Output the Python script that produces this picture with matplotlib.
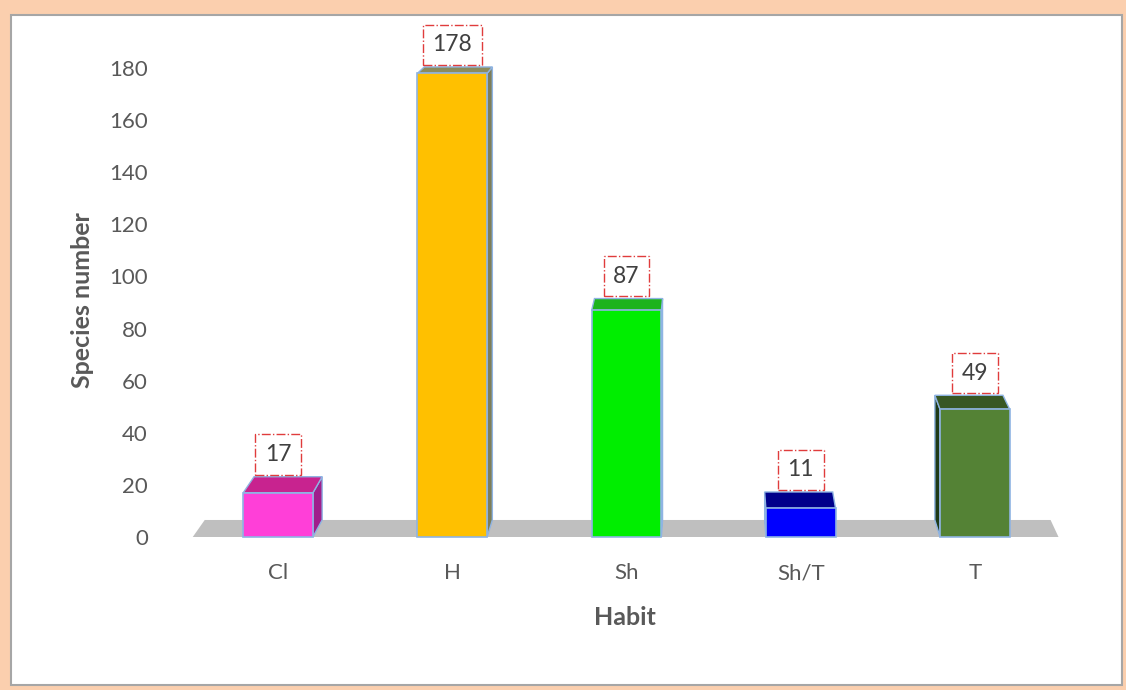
import matplotlib
matplotlib.use("Agg")
import matplotlib.pyplot as plt
from matplotlib.patches import Polygon, Rectangle

categories = ["Cl", "H", "Sh", "Sh/T", "T"]
values = [17, 178, 87, 11, 49]
yticks = list(range(0, 181, 20))

front_colors = ["#FF3FD8", "#FFC000", "#00EE00", "#0000FF", "#548235"]
top_colors = ["#C8238F", "#8C8C5C", "#1DB31D", "#00008B", "#385723"]
side_colors = ["#A01E8C", "#7E7E58", "#139A13", "#0000A8", "#1F3A17"]

plt.rcParams['font.family'] = ['Lato', 'DejaVu Sans']

W, H = 1126, 690
fig = plt.figure(figsize=(W / 100, H / 100), dpi=100)
fig.patch.set_facecolor('#FBCFAE')
fig.patches.append(Rectangle((11 / W, 5 / H), 1111 / W, 670 / H,
                             transform=fig.transFigure, facecolor='white',
                             edgecolor='#A6A6A6', lw=1.5, zorder=-1))

ax = fig.add_axes([191 / W, 153 / H, 871 / W, 521 / H])
ax.set_xlim(-0.5, 4.5)
ax.set_ylim(0, 200)
ax.patch.set_alpha(0)
for s in ax.spines.values():
    s.set_visible(False)

# simple perspective: back face scaled toward vanishing point
vx, vy, sc = 2.5, 284.0, 0.977


def back(x, y):
    return (vx + (x - vx) * sc, vy + (y - vy) * sc)


# floor
fl, fr = -0.49, 4.48
ax.add_patch(Polygon([(fl, 0), (fr, 0), back(fr, 0), back(fl, 0)],
                     closed=True, facecolor='#BFBFBF', edgecolor='none',
                     zorder=1, clip_on=False))

w = 0.40
edge = '#8FB4E3'
for i, v in enumerate(values):
    x0, x1 = i - w / 2, i + w / 2
    xs = x1 if i < vx else x0
    ax.add_patch(Polygon([(xs, 0), (xs, v), back(xs, v), back(xs, 0)],
                         closed=True, facecolor=side_colors[i],
                         edgecolor=edge, lw=1.0, zorder=2, clip_on=False))
    ax.add_patch(Polygon([(x0, v), (x1, v), back(x1, v), back(x0, v)],
                         closed=True, facecolor=top_colors[i],
                         edgecolor=edge, lw=1.0, zorder=3, clip_on=False))
    ax.bar(i, v, width=w, color=front_colors[i], edgecolor=edge, lw=1.2,
           zorder=4, clip_on=False)
    ax.annotate(str(v), xy=(i, back(i, v)[1]), xytext=(0, 16),
                textcoords='offset points', ha='center', va='center',
                fontsize=16.5, color='#404040', zorder=6,
                annotation_clip=False,
                bbox=dict(boxstyle='square,pad=0.42', fc='none',
                          ec='#E03C3C', ls='-.', lw=1.0))

ax.set_yticks(yticks)
ax.set_xticks(range(len(categories)), categories)
ax.tick_params(axis='y', length=0, pad=31, labelsize=16, labelcolor='#595959')
ax.tick_params(axis='x', length=0, pad=19, labelsize=16, labelcolor='#595959')

ax.text(-0.125, 0.455, 'Species number', rotation=90, transform=ax.transAxes,
        ha='center', va='center', fontsize=18, fontweight='bold', color='#595959')
ax.text(0.498, -0.1536, 'Habit', transform=ax.transAxes,
        ha='center', va='center', fontsize=18, fontweight='bold', color='#595959')

fig.savefig('out.png', dpi=100, facecolor=fig.get_facecolor())
